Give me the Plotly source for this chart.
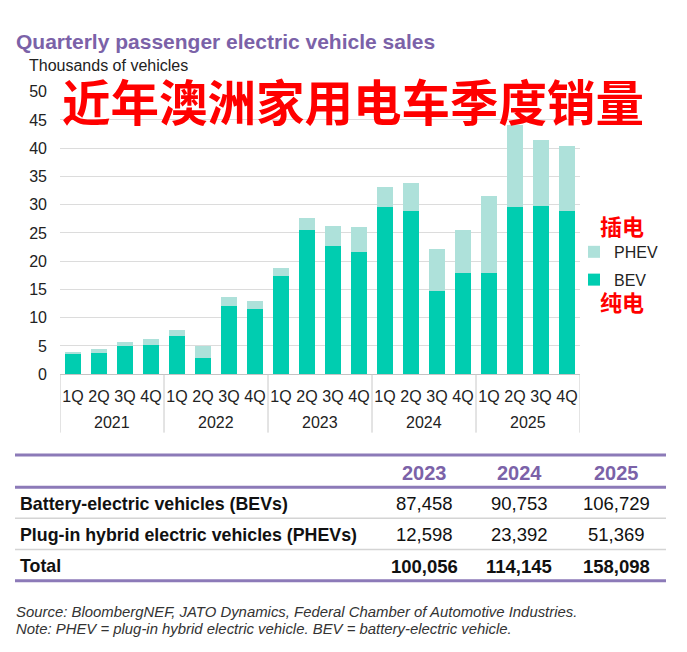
import plotly.graph_objects as go

# ---------------- data ----------------
years = ["2021", "2022", "2023", "2024", "2025"]
quarters = ["1Q", "2Q", "3Q", "4Q"]
bev = [3.5, 3.8, 4.95, 5.1,
       6.7, 2.9, 12.05, 11.55,
       17.4, 25.6, 22.75, 21.55,
       29.6, 28.85, 14.8, 17.9,
       17.9, 29.65, 29.7, 28.85]
phev = [0.5, 0.7, 0.8, 1.05,
        1.05, 2.05, 1.65, 1.35,
        1.45, 2.1, 3.4, 4.45,
        3.5, 5.05, 7.3, 7.6,
        13.7, 14.45, 11.7, 11.6]
y_ticks = [0, 5, 10, 15, 20, 25, 30, 35, 40, 45, 50]

table_years = ["2023", "2024", "2025"]
table_bev = [87458, 90753, 106729]
table_phev = [12598, 23392, 51369]
table_total = [100056, 114145, 158098]
row_labels = ["Battery-electric vehicles (BEVs)",
              "Plug-in hybrid electric vehicles (PHEVs)",
              "Total"]

title = "Quarterly passenger electric vehicle sales"
y_title = "Thousands of vehicles"
cn_title = "近年澳洲家用电车季度销量"
source = "Source: BloombergNEF, JATO Dynamics, Federal Chamber of Automotive Industries."
note = "Note: PHEV = plug-in hybrid electric vehicle. BEV = battery-electric vehicle."

# ---------------- styles ----------------
W, H = 687, 652
BEV_C = "#00CDB0"
PHEV_C = "#AEE1DA"
PURPLE = "#7B62A8"
LINE_PURPLE = "#8C7AB8"
FONT = "Liberation Sans, Arial, sans-serif"
CJK = "Noto Sans CJK SC, sans-serif"


def px(x):
    return x / W


def py(y):
    return 1 - y / H


idx = list(range(len(years) * len(quarters)))
tick_text = [q for _ in years for q in quarters]

fig = go.Figure()
fig.add_trace(go.Bar(x=idx, y=bev, name="BEV", marker_color=BEV_C, legendgroup="bev",
                     legendrank=2, marker_line_width=0, width=0.65))
fig.add_trace(go.Bar(x=idx, y=phev, name="PHEV", marker_color=PHEV_C, legendgroup="phev",
                     legendrank=1, marker_line_width=0, width=0.65))

fig.update_layout(
    width=W, height=H, margin=dict(l=0, r=0, t=0, b=0),
    paper_bgcolor="white", plot_bgcolor="white",
    barmode="stack",
    font=dict(family=FONT, color="#222", size=16),
    legend=dict(x=px(574), y=py(233), xanchor="left", yanchor="top",
                traceorder="grouped", tracegroupgap=4,
                font=dict(size=16, color="#222"),
                itemwidth=30, bgcolor="rgba(0,0,0,0)"),
    xaxis=dict(domain=[px(60), px(580)], range=[-0.5, len(idx) - 0.5],
               tickmode="array", tickvals=idx, ticktext=tick_text,
               tickfont=dict(size=16, color="#222"),
               showgrid=False, zeroline=False,
               showline=True, linecolor="#c4c4c4", linewidth=1,
               ticks="outside", ticklen=8, tickcolor="rgba(0,0,0,0)"),
    yaxis=dict(domain=[py(376), py(86)], range=[0, 50],
               tickmode="array", tickvals=y_ticks,
               tickfont=dict(size=16, color="#222"),
               showgrid=True, gridcolor="#dcdcdc", gridwidth=1,
               zeroline=False, showline=False, ticklabelstandoff=12),
)

shapes = []
annotations = []

# year dividers and labels
n_q = len(quarters)
for i in range(len(years) + 1):
    xv = i * n_q - 0.5
    shapes.append(dict(type="line", xref="x", yref="paper", x0=xv, x1=xv,
                       y0=py(436), y1=py(376), line=dict(color="#c8c8c8", width=1)))
for i, yr in enumerate(years):
    annotations.append(dict(x=i * n_q + (n_q - 1) / 2, y=py(426), xref="x", yref="paper",
                            text=yr, showarrow=False, font=dict(size=16, color="#222"),
                            xanchor="center", yanchor="middle"))

# titles
annotations.append(dict(x=px(14), y=py(34), xref="paper", yref="paper", text="<b>" + title + "</b>",
                        showarrow=False, xanchor="left", yanchor="middle",
                        font=dict(size=21, color=PURPLE, family=FONT)))
annotations.append(dict(x=px(27), y=py(59), xref="paper", yref="paper", text=y_title,
                        showarrow=False, xanchor="left", yanchor="middle",
                        font=dict(size=16, color="#222", family=FONT)))
annotations.append(dict(x=px(353), y=py(94), xref="paper", yref="paper", text="<b>" + cn_title + "</b>",
                        showarrow=False, xanchor="center", yanchor="middle",
                        font=dict(size=48.5, color="#FF0000", family=CJK)))
annotations.append(dict(x=px(622), y=py(223), xref="paper", yref="paper", text="<b>插电</b>",
                        showarrow=False, xanchor="center", yanchor="middle",
                        font=dict(size=22, color="#FF0000", family=CJK)))
annotations.append(dict(x=px(622), y=py(301), xref="paper", yref="paper", text="<b>纯电</b>",
                        showarrow=False, xanchor="center", yanchor="middle",
                        font=dict(size=22, color="#FF0000", family=CJK)))

# table
tx0, tx1 = px(15), px(666)
for yy, col, wd in [(459, LINE_PURPLE, 3), (492, LINE_PURPLE, 3),
                    (524, "#d4d4d4", 1.5), (556, "#d4d4d4", 1.5), (588, LINE_PURPLE, 3)]:
    shapes.append(dict(type="line", xref="paper", yref="paper", x0=tx0, x1=tx1,
                       y0=py(yy), y1=py(yy), line=dict(color=col, width=wd)))

col_x = [424, 519, 616]
for cx, yr in zip(col_x, table_years):
    annotations.append(dict(x=px(cx), y=py(477), xref="paper", yref="paper", text="<b>" + yr + "</b>",
                            showarrow=False, xanchor="center", yanchor="middle",
                            font=dict(size=20, color=PURPLE, family=FONT)))
row_y = [509, 541, 573]
rows = [table_bev, table_phev, table_total]
for r, (lab, ry, vals) in enumerate(zip(row_labels, row_y, rows)):
    annotations.append(dict(x=px(18), y=py(ry), xref="paper", yref="paper", text="<b>" + lab + "</b>",
                            showarrow=False, xanchor="left", yanchor="middle",
                            font=dict(size=17.8, color="#111", family=FONT)))
    for cx, v in zip(col_x, vals):
        t = f"{v:,}"
        if r == 2:
            t = "<b>" + t + "</b>"
        annotations.append(dict(x=px(cx), y=py(ry), xref="paper", yref="paper", text=t,
                                showarrow=False, xanchor="center", yanchor="middle",
                                font=dict(size=18.5, color="#111", family=FONT)))

# footnotes
annotations.append(dict(x=px(14), y=py(620), xref="paper", yref="paper", text="<i>" + source + "</i>",
                        showarrow=False, xanchor="left", yanchor="middle",
                        font=dict(size=14.9, color="#333", family=FONT)))
annotations.append(dict(x=px(14), y=py(638), xref="paper", yref="paper", text="<i>" + note + "</i>",
                        showarrow=False, xanchor="left", yanchor="middle",
                        font=dict(size=14.9, color="#333", family=FONT)))

fig.update_layout(shapes=shapes, annotations=annotations)
fig.write_html("out.html")
